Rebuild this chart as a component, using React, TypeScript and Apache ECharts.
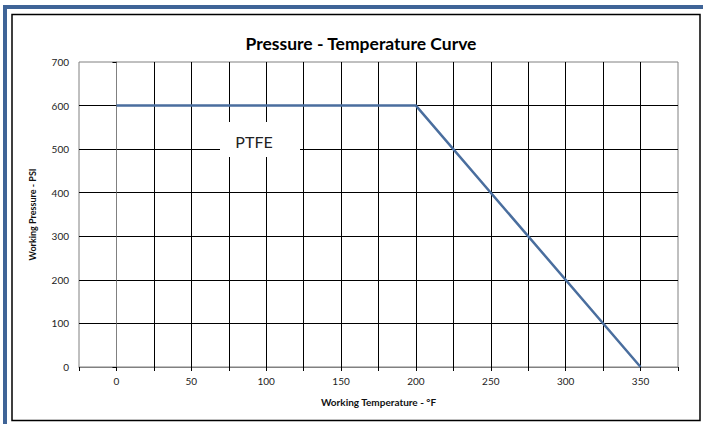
import React, { useEffect, useRef } from "react";
import * as echarts from "echarts";

const temperatures = [0, 200, 350];
const pressures = [600, 600, 0];
const titleText = "Pressure - Temperature Curve";
const xName = "Working Temperature - °F";
const yName = "Working Pressure - PSI";
const seriesLabel = "PTFE";

const FONT = "Lato, 'Open Sans', sans-serif";

export default function App() {
  const ref = useRef<HTMLDivElement>(null);
  useEffect(() => {
    document.body.style.margin = "0";
    if (!ref.current) return;
    const chart = echarts.init(ref.current, null, { renderer: "svg" });
    chart.setOption({
      animation: false,
      backgroundColor: "transparent",
      title: {
        text: titleText,
        left: 356,
        top: 29,
        textAlign: "center",
        textStyle: { fontFamily: FONT, fontSize: 17.5, fontWeight: "bold", color: "#000" },
      },
      grid: {
        left: 79,
        right: 25,
        top: 62,
        bottom: 57,
        show: true,
        borderColor: "#808080",
        borderWidth: 1,
        backgroundColor: "transparent",
      },
      xAxis: {
        type: "value",
        min: -25,
        max: 375,
        interval: 25,
        name: xName,
        nameLocation: "middle",
        nameGap: 30,
        nameTextStyle: { fontFamily: FONT, fontSize: 10, fontWeight: "bold", color: "#111" },
        axisLine: { show: true, lineStyle: { color: "#808080", width: 1 } },
        axisTick: { show: true, length: 4, lineStyle: { color: "#000" } },
        axisLabel: {
          fontFamily: FONT,
          fontSize: 10,
          color: "#222",
          margin: 9,
          showMinLabel: true,
          showMaxLabel: true,
          formatter: (v: number) => (v >= 0 && v % 50 === 0 && v <= 350 ? String(v) : ""),
        },
        splitLine: { show: true, showMinLine: false, showMaxLine: false, lineStyle: { color: "#000", width: 1 } },
      },
      yAxis: {
        type: "value",
        min: 0,
        max: 700,
        interval: 100,
        name: yName,
        nameLocation: "middle",
        nameGap: 42,
        nameTextStyle: { fontFamily: FONT, fontSize: 9, fontWeight: "bold", color: "#111" },
        axisLine: { show: true, lineStyle: { color: "#808080", width: 1 } },
        axisTick: { show: true, length: 4, lineStyle: { color: "#000" } },
        axisLabel: { fontFamily: FONT, fontSize: 10, color: "#222", margin: 10 },
        splitLine: { show: true, showMinLine: false, showMaxLine: false, lineStyle: { color: "#000", width: 1 } },
      },
      graphic: [
        { type: "rect", z: -10, silent: true, shape: { x: 3, y: 5, width: 700, height: 419 }, style: { fill: "#3F6497" } },
        { type: "rect", z: -9, silent: true, shape: { x: 7, y: 9, width: 696, height: 415 }, style: { fill: "#fff" } },
        {
          type: "rect",
          z: -8,
          silent: true,
          shape: { x: 12, y: 14.5, width: 688, height: 406 },
          style: { fill: "#fff", stroke: "#000", lineWidth: 1.5 },
        },
        {
          type: "rect",
          z: 50,
          silent: true,
          shape: { x: 220, y: 122, width: 80, height: 35 },
          style: { fill: "#fff" },
        },
        {
          type: "text",
          z: 51,
          silent: true,
          x: 254,
          y: 141,
          style: {
            text: seriesLabel,
            fontFamily: FONT,
            fontSize: 16,
            fill: "#222",
            align: "center",
            verticalAlign: "middle",
          },
        },
      ],
      series: [
        {
          type: "line",
          name: seriesLabel,
          data: temperatures.map((t, i) => [t, pressures[i]]),
          symbol: "none",
          lineStyle: { color: "#4A6E9E", width: 2.5 },
          z: 10,
        },
      ],
    });
    return () => chart.dispose();
  }, []);
  return <div ref={ref} style={{ width: 703, height: 424 }} />;
}
